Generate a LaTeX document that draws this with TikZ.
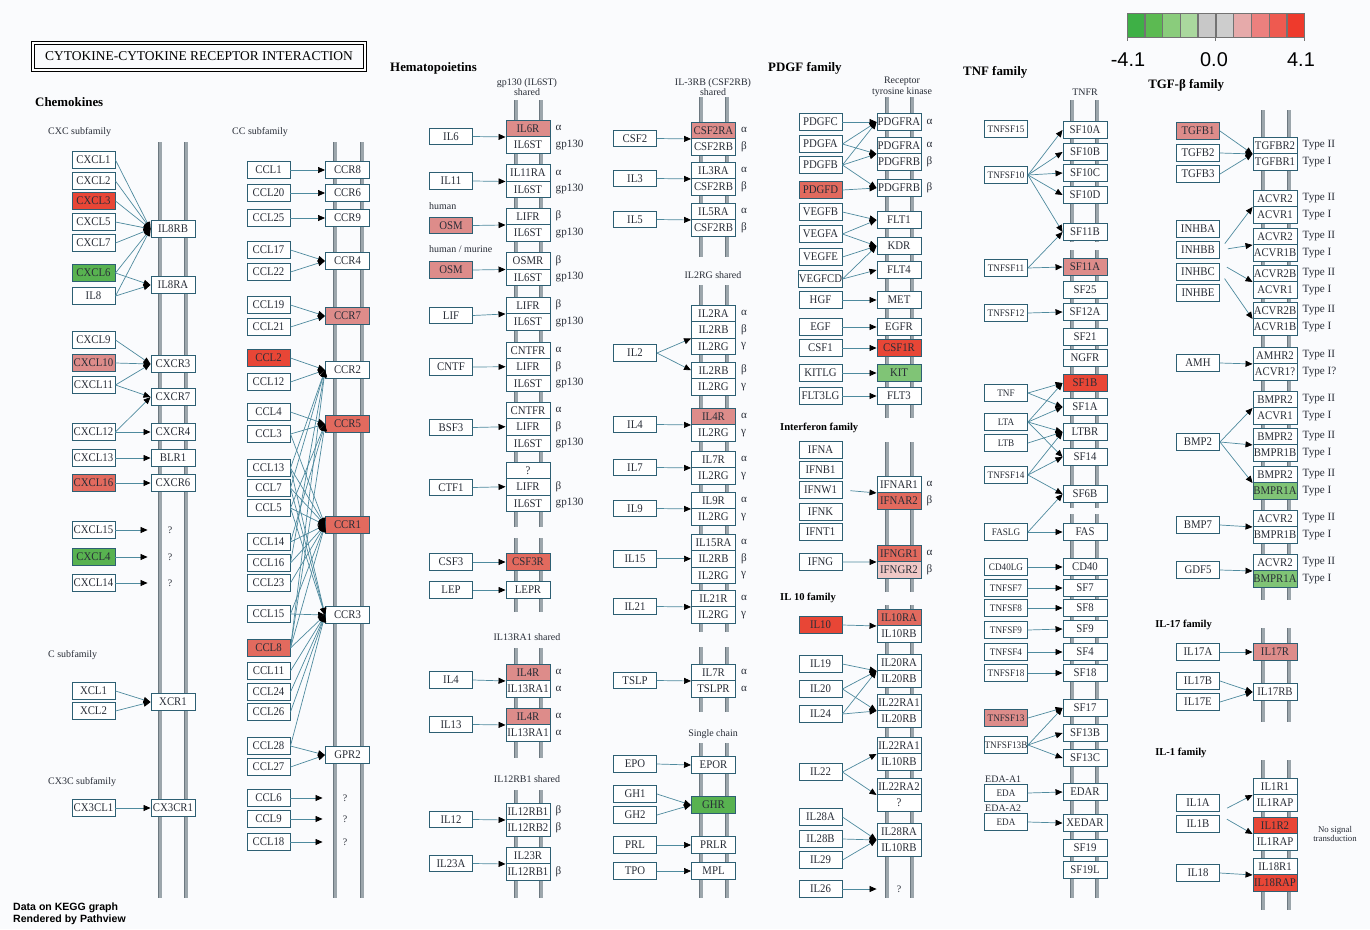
\documentclass[tikz,border=0pt]{standalone}
\usepackage{fontspec}
\setmainfont{Liberation Serif}
\newfontfamily\keyfont{Liberation Sans}
\newfontfamily\genefont{Liberation Serif}[FakeStretch=0.92]
\usepackage{tikz}
\usetikzlibrary{arrows.meta, positioning}
\definecolor{boxblue}{RGB}{45,95,115}
\definecolor{linkteal}{RGB}{78,138,158}
\definecolor{membgray}{RGB}{156,166,172}
\definecolor{membdark}{RGB}{108,120,128}
\definecolor{txtdark}{RGB}{40,45,55}
\definecolor{bgpaper}{RGB}{250,251,253}
\definecolor{upstrong}{RGB}{232,70,54}
\definecolor{upred}{RGB}{226,106,94}
\definecolor{uppink}{RGB}{221,140,138}
\definecolor{uplight}{RGB}{240,200,198}
\definecolor{dngreen}{RGB}{88,178,80}
\definecolor{dnlight}{RGB}{128,196,118}
\definecolor{kone}{RGB}{62,176,70}
\definecolor{ktwo}{RGB}{92,186,82}
\definecolor{kthree}{RGB}{138,204,124}
\definecolor{kfour}{RGB}{170,216,158}
\definecolor{kfive}{RGB}{200,200,200}
\definecolor{ksix}{RGB}{205,205,205}
\definecolor{kseven}{RGB}{230,170,170}
\definecolor{keight}{RGB}{236,128,126}
\definecolor{knine}{RGB}{238,90,80}
\definecolor{kten}{RGB}{238,58,44}
\tikzset{
  gene/.style={rectangle, draw=boxblue, fill=white, line width=0.8pt,
    inner sep=0pt, minimum width=12.9mm, minimum height=5mm,
    text=txtdark, font=\genefont\fontsize{10}{11}\selectfont},
  lig/.style={gene},
  tnflig/.style={gene, font=\genefont\fontsize{8.5}{9}\selectfont},
  rec/.style={gene, minimum width=13.2mm},
  cell/.style={rec, minimum height=4.95mm},
  uA/.style={fill=upstrong},
  uB/.style={fill=upred},
  uC/.style={fill=uppink},
  uD/.style={fill=uplight},
  dA/.style={fill=dngreen},
  dB/.style={fill=dnlight},
  memb/.style={draw=membdark, line width=0.25mm, double=membgray,
    double distance=0.9mm},
  link/.style={draw=linkteal, line width=0.6pt,
    -{Triangle[length=2.1mm, width=1.8mm, color=black]}},
  gap/.style={shorten <=2.4mm},
  toq/.style={shorten >=6mm},
  tagtext/.style={font=\fontsize{9.5}{10}\selectfont, text=txtdark,
    inner sep=0pt, xshift=1.5mm},
  tag/.style={label={[tagtext]east:#1}},
  family/.style={font=\bfseries\fontsize{11}{13}\selectfont, anchor=west,
    inner sep=0pt, text=black},
  smallfam/.style={font=\bfseries\fontsize{9}{11}\selectfont, anchor=west,
    inner sep=0pt, text=black},
  note/.style={font=\fontsize{8.5}{9}\selectfont, text=txtdark,
    inner sep=0pt, align=center},
  qmark/.style={font=\fontsize{8.5}{9}\selectfont, text=txtdark, inner sep=0pt},
  keycell/.style={draw=black!55, line width=0.3pt, minimum width=5.22mm,
    minimum height=7.2mm, inner sep=0pt}
}

\begin{document}
\begin{tikzpicture}[x=0.3mm, y=-0.3mm]
  \useasboundingbox (0,0) rectangle (1370,929);
  \fill[bgpaper] (0,0) rectangle (1370,929);

  % Title
  \node[draw=black, double=white, double distance=1.2pt, line width=0.8pt,
    minimum width=99.6mm, minimum height=8.1mm, inner sep=0pt,
    font=\fontsize{11.5}{13}\selectfont] (title) at (199,56.5)
    {CYTOKINE-CYTOKINE RECEPTOR INTERACTION};

  % Colour key
  \node[keycell, fill=kone] (k1) at (1135.7,25) {};
  \node[keycell, fill=ktwo, right=0pt of k1] (k2) {};
  \node[keycell, fill=kthree, right=0pt of k2] (k3) {};
  \node[keycell, fill=kfour, right=0pt of k3] (k4) {};
  \node[keycell, fill=kfive, right=0pt of k4] (k5) {};
  \node[keycell, fill=ksix, right=0pt of k5] (k6) {};
  \node[keycell, fill=kseven, right=0pt of k6] (k7) {};
  \node[keycell, fill=keight, right=0pt of k7] (k8) {};
  \node[keycell, fill=knine, right=0pt of k8] (k9) {};
  \node[keycell, fill=kten, right=0pt of k9] (k10) {};
  \draw[black!55, line width=0.3pt] (k1.south west) -- ++(0,4) (k5.south east) -- ++(0,4)
    (k10.south east) -- ++(0,4);
  \node[font=\keyfont\fontsize{17}{18}\selectfont, inner sep=0pt] (kmin) at (1128,60) {-4.1};
  \node[font=\keyfont\fontsize{17}{18}\selectfont, inner sep=0pt] (kmid) at (1214,60) {0.0};
  \node[font=\keyfont\fontsize{17}{18}\selectfont, inner sep=0pt] (kmax) at (1301,60) {4.1};

  % Membranes
  \draw[memb] (160,142) -- (160,898);
  \draw[memb] (186,142) -- (186,898);
  \draw[memb] (335,142) -- (335,898);
  \draw[memb] (362,142) -- (362,898);
  \draw[memb] (516,100) -- (516,527);
  \draw[memb] (541,100) -- (541,527);
  \draw[memb] (516,538) -- (516,612);
  \draw[memb] (541,538) -- (541,612);
  \draw[memb] (516,648) -- (516,758);
  \draw[memb] (541,648) -- (541,758);
  \draw[memb] (516,790) -- (516,898);
  \draw[memb] (541,790) -- (541,898);
  \draw[memb] (701,97) -- (701,257);
  \draw[memb] (727,97) -- (727,257);
  \draw[memb] (701,285) -- (701,632);
  \draw[memb] (727,285) -- (727,632);
  \draw[memb] (701,647) -- (701,712);
  \draw[memb] (727,647) -- (727,712);
  \draw[memb] (701,743) -- (701,898);
  \draw[memb] (727,743) -- (727,898);
  \draw[memb] (887,97) -- (887,418);
  \draw[memb] (912,97) -- (912,418);
  \draw[memb] (887,442) -- (887,592);
  \draw[memb] (912,442) -- (912,592);
  \draw[memb] (887,605) -- (887,898);
  \draw[memb] (912,605) -- (912,898);
  \draw[memb] (1072,100) -- (1072,242);
  \draw[memb] (1097,100) -- (1097,242);
  \draw[memb] (1072,250) -- (1072,508);
  \draw[memb] (1097,250) -- (1097,508);
  \draw[memb] (1072,514) -- (1072,898);
  \draw[memb] (1097,514) -- (1097,898);
  \draw[memb] (1263,110) -- (1263,600);
  \draw[memb] (1289,110) -- (1289,600);
  \draw[memb] (1263,628) -- (1263,722);
  \draw[memb] (1289,628) -- (1289,722);
  \draw[memb] (1263,760) -- (1263,910);
  \draw[memb] (1289,760) -- (1289,910);

  % Chemokines: CXC
  \node[family] (chemo) at (35,102) {Chemokines};
  \node[note, anchor=west] (cxcsub) at (48,132) {CXC subfamily};
  \node[lig] (cxcl1) at (93.5,160) {CXCL1};
  \node[lig] (cxcl2) at (93.5,181) {CXCL2};
  \node[lig, uA] (cxcl3) at (93.5,201) {CXCL3};
  \node[lig] (cxcl5) at (93.5,222) {CXCL5};
  \node[lig] (cxcl7) at (93.5,243) {CXCL7};
  \node[lig, dA] (cxcl6) at (93.5,273) {CXCL6};
  \node[lig] (il8) at (93.5,296) {IL8};
  \node[lig] (cxcl9) at (93.5,340) {CXCL9};
  \node[lig, uC] (cxcl10) at (93.5,363) {CXCL10};
  \node[lig] (cxcl11) at (93.5,385) {CXCL11};
  \node[lig] (cxcl12) at (93.5,432) {CXCL12};
  \node[lig] (cxcl13) at (93.5,458) {CXCL13};
  \node[lig, uB] (cxcl16) at (93.5,483) {CXCL16};
  \node[lig] (cxcl15) at (93.5,530) {CXCL15};
  \node[lig, dA] (cxcl4) at (93.5,557) {CXCL4};
  \node[lig] (cxcl14) at (93.5,583) {CXCL14};
  \node[rec] (il8rb) at (173,229) {IL8RB};
  \node[rec] (il8ra) at (173,285) {IL8RA};
  \node[rec] (cxcr3) at (173,364) {CXCR3};
  \node[rec] (cxcr7) at (173,397) {CXCR7};
  \node[rec] (cxcr4) at (173,432) {CXCR4};
  \node[rec] (blr1) at (173,458) {BLR1};
  \node[rec] (cxcr6) at (173,483) {CXCR6};
  \node[qmark] (qa) at (170,530) {?};
  \node[qmark] (qb) at (170,557) {?};
  \node[qmark] (qc) at (170,583) {?};
  \node[note, anchor=west] (csub) at (48,655) {C subfamily};
  \node[lig] (xcl1) at (93.5,691) {XCL1};
  \node[lig] (xcl2) at (93.5,711) {XCL2};
  \node[rec] (xcr1) at (173,702) {XCR1};
  \node[note, anchor=west] (cxxxcsub) at (48,782) {CX3C subfamily};
  \node[lig] (cx3cl1) at (93.5,808) {CX3CL1};
  \node[rec] (cx3cr1) at (173,808) {CX3CR1};

  \draw[link] (cxcl1.east) -- (il8rb.west);
  \draw[link] (cxcl2.east) -- (il8rb.west);
  \draw[link] (cxcl3.east) -- (il8rb.west);
  \draw[link] (cxcl5.east) -- (il8rb.west);
  \draw[link] (cxcl7.east) -- (il8rb.west);
  \draw[link] (cxcl6.east) -- (il8rb.west);
  \draw[link] (il8.east) -- (il8rb.west);
  \draw[link] (cxcl6.east) -- (il8ra.west);
  \draw[link] (il8.east) -- (il8ra.west);
  \draw[link] (cxcl9.east) -- (cxcr3.west);
  \draw[link] (cxcl10.east) -- (cxcr3.west);
  \draw[link] (cxcl11.east) -- (cxcr3.west);
  \draw[link] (cxcl11.east) -- (cxcr7.west);
  \draw[link] (cxcl12.east) -- (cxcr7.west);
  \draw[link] (cxcl12.east) -- (cxcr4.west);
  \draw[link] (cxcl13.east) -- (blr1.west);
  \draw[link] (cxcl16.east) -- (cxcr6.west);
  \draw[link, toq] (cxcl15.east) -- (qa);
  \draw[link, toq] (cxcl4.east) -- (qb);
  \draw[link, toq] (cxcl14.east) -- (qc);
  \draw[link] (xcl1.east) -- (xcr1.west);
  \draw[link] (xcl2.east) -- (xcr1.west);
  \draw[link] (cx3cl1.east) -- (cx3cr1.west);

  % Chemokines: CC
  \node[note, anchor=west] (ccsub) at (232,132) {CC subfamily};
  \node[lig] (ccl1) at (268.5,170) {CCL1};
  \node[lig] (ccl20) at (268.5,193) {CCL20};
  \node[lig] (ccl25) at (268.5,218) {CCL25};
  \node[lig] (ccl17) at (268.5,250) {CCL17};
  \node[lig] (ccl22) at (268.5,272) {CCL22};
  \node[lig] (ccl19) at (268.5,305) {CCL19};
  \node[lig] (ccl21) at (268.5,327) {CCL21};
  \node[lig, uA] (ccl2) at (268.5,358) {CCL2};
  \node[lig] (ccl12) at (268.5,382) {CCL12};
  \node[lig] (ccl4) at (268.5,412) {CCL4};
  \node[lig] (ccl3) at (268.5,434) {CCL3};
  \node[lig] (ccl13) at (268.5,468) {CCL13};
  \node[lig] (ccl7) at (268.5,488) {CCL7};
  \node[lig] (ccl5) at (268.5,508) {CCL5};
  \node[lig] (ccl14) at (268.5,542) {CCL14};
  \node[lig] (ccl16) at (268.5,563) {CCL16};
  \node[lig] (ccl23) at (268.5,583) {CCL23};
  \node[lig] (ccl15) at (268.5,614) {CCL15};
  \node[lig, uB] (ccl8) at (268.5,648) {CCL8};
  \node[lig] (ccl11) at (268.5,671) {CCL11};
  \node[lig] (ccl24) at (268.5,692) {CCL24};
  \node[lig] (ccl26) at (268.5,712) {CCL26};
  \node[lig] (ccl28) at (268.5,746) {CCL28};
  \node[lig] (ccl27) at (268.5,767) {CCL27};
  \node[lig] (ccl6) at (268.5,798) {CCL6};
  \node[lig] (ccl9) at (268.5,819) {CCL9};
  \node[lig] (ccl18) at (268.5,842) {CCL18};
  \node[rec] (ccr8) at (347.5,170) {CCR8};
  \node[rec] (ccr6) at (347.5,193) {CCR6};
  \node[rec] (ccr9) at (347.5,218) {CCR9};
  \node[rec] (ccr4) at (347.5,261) {CCR4};
  \node[rec, uC] (ccr7) at (347.5,316) {CCR7};
  \node[rec] (ccr2) at (347.5,370) {CCR2};
  \node[rec, uB] (ccr5) at (347.5,424) {CCR5};
  \node[rec, uB] (ccr1) at (347.5,525) {CCR1};
  \node[rec] (ccr3) at (347.5,615) {CCR3};
  \node[rec] (gpr2) at (347.5,755) {GPR2};
  \node[qmark] (qd) at (345,798) {?};
  \node[qmark] (qe) at (345,819) {?};
  \node[qmark] (qf) at (345,842) {?};

  \draw[link] (ccl1.east) -- (ccr8.west);
  \draw[link] (ccl20.east) -- (ccr6.west);
  \draw[link] (ccl25.east) -- (ccr9.west);
  \draw[link] (ccl17.east) -- (ccr4.west);
  \draw[link] (ccl22.east) -- (ccr4.west);
  \draw[link] (ccl19.east) -- (ccr7.west);
  \draw[link] (ccl21.east) -- (ccr7.west);
  \draw[link] (ccl2.east) -- (ccr2.west);
  \draw[link] (ccl12.east) -- (ccr2.west);
  \draw[link] (ccl13.east) -- (ccr2.west);
  \draw[link] (ccl7.east) -- (ccr2.west);
  \draw[link] (ccl8.east) -- (ccr2.west);
  \draw[link] (ccl16.east) -- (ccr2.west);
  \draw[link] (ccl4.east) -- (ccr5.west);
  \draw[link] (ccl3.east) -- (ccr5.west);
  \draw[link] (ccl5.east) -- (ccr5.west);
  \draw[link] (ccl14.east) -- (ccr5.west);
  \draw[link] (ccl8.east) -- (ccr5.west);
  \draw[link] (ccl3.east) -- (ccr1.west);
  \draw[link] (ccl5.east) -- (ccr1.west);
  \draw[link] (ccl7.east) -- (ccr1.west);
  \draw[link] (ccl13.east) -- (ccr1.west);
  \draw[link] (ccl14.east) -- (ccr1.west);
  \draw[link] (ccl16.east) -- (ccr1.west);
  \draw[link] (ccl23.east) -- (ccr1.west);
  \draw[link] (ccl15.east) -- (ccr1.west);
  \draw[link] (ccl8.east) -- (ccr1.west);
  \draw[link] (ccl5.east) -- (ccr3.west);
  \draw[link] (ccl7.east) -- (ccr3.west);
  \draw[link] (ccl13.east) -- (ccr3.west);
  \draw[link] (ccl15.east) -- (ccr3.west);
  \draw[link] (ccl8.east) -- (ccr3.west);
  \draw[link] (ccl11.east) -- (ccr3.west);
  \draw[link] (ccl24.east) -- (ccr3.west);
  \draw[link] (ccl26.east) -- (ccr3.west);
  \draw[link] (ccl28.east) -- (ccr3.west);
  \draw[link] (ccl28.east) -- (gpr2.west);
  \draw[link] (ccl27.east) -- (gpr2.west);
  \draw[link, toq] (ccl6.east) -- (qd);
  \draw[link, toq] (ccl9.east) -- (qe);
  \draw[link, toq] (ccl18.east) -- (qf);

  % Hematopoietins: gp130 shared
  \node[family] (hemato) at (390,68) {Hematopoietins};
  \node[note] (gpnote) at (527,87) {gp130 (IL6ST)\\shared};
  \node[cell, uC, tag=α] (il6r) at (528,128.25) {IL6R};
  \node[cell, tag=gp130] (gpa) at (528,144.75) {IL6ST};
  \node[cell, tag=α] (il11ra) at (528,172.75) {IL11RA};
  \node[cell, tag=gp130] (gpb) at (528,189.25) {IL6ST};
  \node[cell, tag=β] (lifra) at (528,216.25) {LIFR};
  \node[cell, tag=gp130] (gpc) at (528,232.75) {IL6ST};
  \node[cell, tag=β] (osmr) at (528,260.75) {OSMR};
  \node[cell, tag=gp130] (gpd) at (528,277.25) {IL6ST};
  \node[cell, tag=β] (lifrb) at (528,305.25) {LIFR};
  \node[cell, tag=gp130] (gpe) at (528,321.75) {IL6ST};
  \node[cell, tag=α] (cntfra) at (528,350.25) {CNTFR};
  \node[cell, tag=β] (lifrc) at (528,366.75) {LIFR};
  \node[cell, tag=gp130] (gpf) at (528,383.25) {IL6ST};
  \node[cell, tag=α] (cntfrb) at (528,410.25) {CNTFR};
  \node[cell, tag=β] (lifrd) at (528,426.75) {LIFR};
  \node[cell, tag=gp130] (gpg) at (528,443.25) {IL6ST};
  \node[cell] (unka) at (528,470.25) {?};
  \node[cell, tag=β] (lifre) at (528,486.75) {LIFR};
  \node[cell, tag=gp130] (gph) at (528,503.25) {IL6ST};
  \node[rec, uB] (csf3r) at (528,562) {CSF3R};
  \node[rec] (lepr) at (528,590) {LEPR};
  \node[lig] (il6) at (451,136.5) {IL6};
  \node[lig] (il11) at (451,181) {IL11};
  \node[note, anchor=west] (human) at (429,206) {human};
  \node[lig, uC] (osma) at (451,225.5) {OSM};
  \node[note, anchor=west] (humur) at (429,249) {human / murine};
  \node[lig, uC] (osmb) at (451,270) {OSM};
  \node[lig] (lif) at (451,315.5) {LIF};
  \node[lig] (cntf) at (451,367) {CNTF};
  \node[lig] (bsf3) at (451,427.5) {BSF3};
  \node[lig] (ctf1) at (451,487.5) {CTF1};
  \node[lig] (csf3) at (451,562) {CSF3};
  \node[lig] (lep) at (451,590) {LEP};

  \draw[link] (il6.east) -- (il6r.south west);
  \draw[link] (il11.east) -- (il11ra.south west);
  \draw[link] (osma.east) -- (lifra.south west);
  \draw[link] (osmb.east) -- (osmr.south west);
  \draw[link] (lif.east) -- (lifrb.south west);
  \draw[link] (cntf.east) -- (lifrc.west);
  \draw[link] (bsf3.east) -- (lifrd.west);
  \draw[link] (ctf1.east) -- (lifre.west);
  \draw[link] (csf3.east) -- (csf3r.west);
  \draw[link] (lep.east) -- (lepr.west);

  % Hematopoietins: IL13RA1 and IL12RB1 shared
  \node[note] (il13note) at (527,637) {IL13RA1 shared};
  \node[cell, uC, tag=α] (il4ra) at (528,672.25) {IL4R};
  \node[cell, tag=α] (il13raa) at (528,688.75) {IL13RA1};
  \node[cell, uC, tag=α] (il4rb) at (528,716.25) {IL4R};
  \node[cell, tag=α] (il13rab) at (528,732.75) {IL13RA1};
  \node[lig] (il4a) at (451,680) {IL4};
  \node[lig] (il13) at (451,724.5) {IL13};
  \node[note] (il12note) at (527,779) {IL12RB1 shared};
  \node[cell, tag=β] (il12rba) at (528,811.25) {IL12RB1};
  \node[cell, tag=β] (il12rb2) at (528,827.75) {IL12RB2};
  \node[cell] (il23r) at (528,855.25) {IL23R};
  \node[cell, tag=β] (il12rbb) at (528,871.75) {IL12RB1};
  \node[lig] (il12) at (451,819.5) {IL12};
  \node[lig] (il23a) at (451,863.5) {IL23A};

  \draw[link] (il4a.east) -- (il4ra.south west);
  \draw[link] (il13.east) -- (il4rb.south west);
  \draw[link] (il12.east) -- (il12rba.south west);
  \draw[link] (il23a.east) -- (il23r.south west);

  % Hematopoietins: IL-3RB and IL2RG shared, single chain
  \node[note] (il3note) at (713,87) {IL-3RB (CSF2RB)\\shared};
  \node[cell, uC, tag=α] (csf2ra) at (713.5,130.25) {CSF2RA};
  \node[cell, tag=β] (csf2rba) at (713.5,146.75) {CSF2RB};
  \node[cell, tag=α] (il3ra) at (713.5,170.25) {IL3RA};
  \node[cell, tag=β] (csf2rbb) at (713.5,186.75) {CSF2RB};
  \node[cell, tag=α] (il5ra) at (713.5,211.25) {IL5RA};
  \node[cell, tag=β] (csf2rbc) at (713.5,227.75) {CSF2RB};
  \node[lig] (csf2) at (635,138.5) {CSF2};
  \node[lig] (il3) at (635,178.5) {IL3};
  \node[lig] (il5) at (635,219.5) {IL5};
  \node[note] (il2note) at (713,275) {IL2RG shared};
  \node[cell, tag=α] (il2ra) at (713.5,313.25) {IL2RA};
  \node[cell, tag=β] (il2rba) at (713.5,329.75) {IL2RB};
  \node[cell, tag=γ] (il2rga) at (713.5,346.25) {IL2RG};
  \node[cell, tag=β] (il2rbb) at (713.5,370.25) {IL2RB};
  \node[cell, tag=γ] (il2rgb) at (713.5,386.75) {IL2RG};
  \node[cell, uC, tag=α] (il4rc) at (713.5,416.25) {IL4R};
  \node[cell, tag=γ] (il2rgc) at (713.5,432.75) {IL2RG};
  \node[cell, tag=α] (il7ra) at (713.5,459.25) {IL7R};
  \node[cell, tag=γ] (il2rgd) at (713.5,475.75) {IL2RG};
  \node[cell, tag=α] (il9r) at (713.5,500.25) {IL9R};
  \node[cell, tag=γ] (il2rge) at (713.5,516.75) {IL2RG};
  \node[cell, tag=α] (il15ra) at (713.5,542.25) {IL15RA};
  \node[cell, tag=β] (il2rbc) at (713.5,558.75) {IL2RB};
  \node[cell, tag=γ] (il2rgf) at (713.5,575.25) {IL2RG};
  \node[cell, tag=α] (il21r) at (713.5,598.25) {IL21R};
  \node[cell, tag=γ] (il2rgg) at (713.5,614.75) {IL2RG};
  \node[cell, tag=α] (il7rb) at (713.5,672.25) {IL7R};
  \node[cell, tag=α] (tslpr) at (713.5,688.75) {TSLPR};
  \node[lig] (il2) at (635,353) {IL2};
  \node[lig] (il4b) at (635,424.5) {IL4};
  \node[lig] (il7) at (635,467.5) {IL7};
  \node[lig] (il9) at (635,508.5) {IL9};
  \node[lig] (il15) at (635,558.75) {IL15};
  \node[lig] (il21) at (635,606.5) {IL21};
  \node[lig] (tslp) at (635,680.5) {TSLP};
  \node[note] (singlenote) at (713,734) {Single chain};
  \node[rec] (epor) at (713.5,765) {EPOR};
  \node[rec, dA] (ghr) at (713.5,805) {GHR};
  \node[rec] (prlr) at (713.5,845) {PRLR};
  \node[rec] (mpl) at (713.5,871) {MPL};
  \node[lig] (epo) at (635,764) {EPO};
  \node[lig] (gh1) at (635,794) {GH1};
  \node[lig] (gh2) at (635,815) {GH2};
  \node[lig] (prl) at (635,845) {PRL};
  \node[lig] (tpo) at (635,871) {TPO};

  \draw[link] (csf2.east) -- (csf2ra.south west);
  \draw[link] (il3.east) -- (il3ra.south west);
  \draw[link] (il5.east) -- (il5ra.south west);
  \draw[link] (il2.east) -- (il2rba.south west);
  \draw[link] (il2.east) -- (il2rbb.west);
  \draw[link] (il4b.east) -- (il4rc.south west);
  \draw[link] (il7.east) -- (il7ra.south west);
  \draw[link] (il9.east) -- (il9r.south west);
  \draw[link] (il15.east) -- (il2rbc.west);
  \draw[link] (il21.east) -- (il21r.south west);
  \draw[link] (tslp.east) -- (il7rb.south west);
  \draw[link] (epo.east) -- (epor.west);
  \draw[link] (gh1.east) -- (ghr.west);
  \draw[link] (gh2.east) -- (ghr.west);
  \draw[link] (prl.east) -- (prlr.west);
  \draw[link] (tpo.east) -- (mpl.west);

  % PDGF family
  \node[family] (pdgffam) at (768,68) {PDGF family};
  \node[note] (rtknote) at (902,87) {Receptor\\tyrosine kinase};
  \node[lig] (pdgfc) at (820.5,122) {PDGFC};
  \node[lig] (pdgfa) at (820.5,144) {PDGFA};
  \node[lig] (pdgfb) at (820.5,165) {PDGFB};
  \node[lig, uB] (pdgfd) at (820.5,190) {PDGFD};
  \node[lig] (vegfb) at (820.5,212) {VEGFB};
  \node[lig] (vegfa) at (820.5,234) {VEGFA};
  \node[lig] (vegfe) at (820.5,257) {VEGFE};
  \node[lig] (vegfcd) at (820.5,279) {VEGFCD};
  \node[lig] (hgf) at (820.5,300) {HGF};
  \node[lig] (egf) at (820.5,327) {EGF};
  \node[lig] (csf1) at (820.5,348) {CSF1};
  \node[lig] (kitlg) at (820.5,373) {KITLG};
  \node[lig] (flt3lg) at (820.5,396) {FLT3LG};
  \node[rec, tag=α] (pdgfraa) at (899,122) {PDGFRA};
  \node[cell, tag=α] (pdgfrab) at (899,145.25) {PDGFRA};
  \node[cell, tag=β] (pdgfrba) at (899,161.75) {PDGFRB};
  \node[rec, tag=β] (pdgfrbb) at (899,188) {PDGFRB};
  \node[rec] (flt1) at (899,220) {FLT1};
  \node[rec] (kdr) at (899,246) {KDR};
  \node[rec] (flt4) at (899,270) {FLT4};
  \node[rec] (met) at (899,300) {MET};
  \node[rec] (egfr) at (899,327) {EGFR};
  \node[rec, uA] (csf1r) at (899,348) {CSF1R};
  \node[rec, dB] (kit) at (899,373) {KIT};
  \node[rec] (flt3) at (899,396) {FLT3};

  \draw[link] (pdgfc.east) -- (pdgfraa.west);
  \draw[link] (pdgfa.east) -- (pdgfraa.west);
  \draw[link] (pdgfa.east) -- (pdgfrab.south west);
  \draw[link] (pdgfb.east) -- (pdgfraa.west);
  \draw[link] (pdgfb.east) -- (pdgfrab.south west);
  \draw[link] (pdgfb.east) -- (pdgfrbb.west);
  \draw[link] (pdgfd.east) -- (pdgfrbb.west);
  \draw[link] (vegfb.east) -- (flt1.west);
  \draw[link] (vegfa.east) -- (flt1.west);
  \draw[link] (vegfa.east) -- (kdr.west);
  \draw[link] (vegfe.east) -- (kdr.west);
  \draw[link] (vegfcd.east) -- (kdr.west);
  \draw[link] (vegfcd.east) -- (flt4.west);
  \draw[link] (hgf.east) -- (met.west);
  \draw[link] (egf.east) -- (egfr.west);
  \draw[link] (csf1.east) -- (csf1r.west);
  \draw[link] (kitlg.east) -- (kit.west);
  \draw[link] (flt3lg.east) -- (flt3.west);

  % Interferon family
  \node[smallfam] (ifnfam) at (780,428) {Interferon family};
  \node[lig] (ifna) at (820.5,450) {IFNA};
  \node[lig] (ifnb1) at (820.5,470) {IFNB1};
  \node[lig] (ifnw1) at (820.5,490) {IFNW1};
  \node[lig] (ifnk) at (820.5,512) {IFNK};
  \node[lig] (ifnt1) at (820.5,532) {IFNT1};
  \node[lig] (ifng) at (820.5,562) {IFNG};
  \node[cell, tag=α] (ifnar1) at (899,484.25) {IFNAR1};
  \node[cell, uB, tag=β] (ifnar2) at (899,500.75) {IFNAR2};
  \node[cell, uB, tag=α] (ifngr1) at (899,553.25) {IFNGR1};
  \node[cell, uD, tag=β] (ifngr2) at (899,569.75) {IFNGR2};

  \draw[link, gap] (ifnw1.east) -- (ifnar1.south west);
  \draw[link] (ifng.east) -- (ifngr1.south west);

  % IL 10 family
  \node[smallfam] (il10fam) at (780,598) {IL 10 family};
  \node[lig, uA] (il10) at (820.5,625) {IL10};
  \node[lig] (il19) at (820.5,664) {IL19};
  \node[lig] (il20) at (820.5,689) {IL20};
  \node[lig] (il24) at (820.5,714) {IL24};
  \node[lig] (il22) at (820.5,772) {IL22};
  \node[lig] (il28a) at (820.5,817) {IL28A};
  \node[lig] (il28b) at (820.5,839) {IL28B};
  \node[lig] (il29) at (820.5,860) {IL29};
  \node[lig] (il26) at (820.5,889) {IL26};
  \node[cell, uB] (il10ra) at (899,617.25) {IL10RA};
  \node[cell] (il10rba) at (899,633.75) {IL10RB};
  \node[cell] (il20ra) at (899,662.25) {IL20RA};
  \node[cell] (il20rba) at (899,678.75) {IL20RB};
  \node[cell] (il22raa) at (899,702.25) {IL22RA1};
  \node[cell] (il20rbb) at (899,718.75) {IL20RB};
  \node[cell] (il22rab) at (899,745.25) {IL22RA1};
  \node[cell] (il10rbb) at (899,761.75) {IL10RB};
  \node[cell] (il22ra2) at (899,786.25) {IL22RA2};
  \node[cell] (unkb) at (899,802.75) {?};
  \node[cell] (il28ra) at (899,831.25) {IL28RA};
  \node[cell] (il10rbc) at (899,847.75) {IL10RB};
  \node[qmark] (qg) at (899,889) {?};

  \draw[link] (il10.east) -- (il10ra.south west);
  \draw[link] (il19.east) -- (il20ra.south west);
  \draw[link] (il20.east) -- (il20ra.south west);
  \draw[link] (il20.east) -- (il22raa.south west);
  \draw[link] (il24.east) -- (il20ra.south west);
  \draw[link] (il24.east) -- (il22raa.south west);
  \draw[link] (il22.east) -- (il22rab.south west);
  \draw[link] (il22.east) -- (il22ra2.south west);
  \draw[link] (il28a.east) -- (il28ra.south west);
  \draw[link] (il28b.east) -- (il28ra.south west);
  \draw[link] (il29.east) -- (il28ra.south west);
  \draw[link, toq] (il26.east) -- (qg);

  % TNF family
  \node[family] (tnffam) at (963,72) {TNF family};
  \node[note] (tnfrnote) at (1085,92) {TNFR};
  \node[tnflig] (tnfsf15) at (1006,129) {TNFSF15};
  \node[tnflig] (tnfsf10) at (1006,175) {TNFSF10};
  \node[tnflig] (tnfsf11) at (1006,268) {TNFSF11};
  \node[tnflig] (tnfsf12) at (1006,313) {TNFSF12};
  \node[tnflig] (tnf) at (1006,393) {TNF};
  \node[tnflig] (lta) at (1006,422) {LTA};
  \node[tnflig] (ltb) at (1006,443) {LTB};
  \node[tnflig] (tnfsf14) at (1006,475) {TNFSF14};
  \node[tnflig] (faslg) at (1006,532) {FASLG};
  \node[tnflig] (cd40lg) at (1006,567) {CD40LG};
  \node[tnflig] (tnfsf7) at (1006,588) {TNFSF7};
  \node[tnflig] (tnfsf8) at (1006,608) {TNFSF8};
  \node[tnflig] (tnfsf9) at (1006,630) {TNFSF9};
  \node[tnflig] (tnfsf4) at (1006,652) {TNFSF4};
  \node[tnflig] (tnfsf18) at (1006,673) {TNFSF18};
  \node[tnflig, uC] (tnfsf13) at (1006,718) {TNFSF13};
  \node[tnflig] (tnfsf13b) at (1006,745) {TNFSF13B};
  \node[note, anchor=west] (edaanote) at (985,779) {EDA-A1};
  \node[tnflig] (edaa) at (1006,793) {EDA};
  \node[note, anchor=west] (edabnote) at (985,808) {EDA-A2};
  \node[tnflig] (edab) at (1006,822) {EDA};
  \node[rec] (sf10a) at (1085,130) {SF10A};
  \node[rec] (sf10b) at (1085,152) {SF10B};
  \node[rec] (sf10c) at (1085,173) {SF10C};
  \node[rec] (sf10d) at (1085,195) {SF10D};
  \node[rec] (sf11b) at (1085,232) {SF11B};
  \node[rec, uC] (sf11a) at (1085,267) {SF11A};
  \node[rec] (sf25) at (1085,290) {SF25};
  \node[rec] (sf12a) at (1085,312) {SF12A};
  \node[rec] (sf21) at (1085,337) {SF21};
  \node[rec] (ngfr) at (1085,358) {NGFR};
  \node[rec, uA] (sf1b) at (1085,383) {SF1B};
  \node[rec] (sf1a) at (1085,407) {SF1A};
  \node[rec] (ltbr) at (1085,432) {LTBR};
  \node[rec] (sf14) at (1085,457) {SF14};
  \node[rec] (sf6b) at (1085,494) {SF6B};
  \node[rec] (fas) at (1085,532) {FAS};
  \node[rec] (cd40) at (1085,567) {CD40};
  \node[rec] (sf7) at (1085,588) {SF7};
  \node[rec] (sf8) at (1085,608) {SF8};
  \node[rec] (sf9) at (1085,629) {SF9};
  \node[rec] (sf4) at (1085,652) {SF4};
  \node[rec] (sf18) at (1085,673) {SF18};
  \node[rec] (sf17) at (1085,708) {SF17};
  \node[rec] (sf13b) at (1085,733) {SF13B};
  \node[rec] (sf13c) at (1085,758) {SF13C};
  \node[rec] (edar) at (1085,792) {EDAR};
  \node[rec] (xedar) at (1085,823) {XEDAR};
  \node[rec] (sf19) at (1085,848) {SF19};
  \node[rec] (sf19l) at (1085,870) {SF19L};

  \draw[link] (tnfsf10.east) -- (sf10a.west);
  \draw[link] (tnfsf10.east) -- (sf10b.west);
  \draw[link] (tnfsf10.east) -- (sf10c.west);
  \draw[link] (tnfsf10.east) -- (sf10d.west);
  \draw[link] (tnfsf10.east) -- (sf11b.west);
  \draw[link] (tnfsf11.east) -- (sf11b.west);
  \draw[link] (tnfsf11.east) -- (sf11a.west);
  \draw[link] (tnfsf12.east) -- (sf12a.west);
  \draw[link] (tnf.east) -- (sf1b.west);
  \draw[link] (tnf.east) -- (sf1a.west);
  \draw[link] (lta.east) -- (sf1b.west);
  \draw[link] (lta.east) -- (sf1a.west);
  \draw[link] (lta.east) -- (ltbr.west);
  \draw[link] (lta.east) -- (sf14.west);
  \draw[link] (ltb.east) -- (ltbr.west);
  \draw[link] (tnfsf14.east) -- (ltbr.west);
  \draw[link] (tnfsf14.east) -- (sf14.west);
  \draw[link] (tnfsf14.east) -- (sf6b.west);
  \draw[link] (faslg.east) -- (sf6b.west);
  \draw[link] (faslg.east) -- (fas.west);
  \draw[link] (cd40lg.east) -- (cd40.west);
  \draw[link] (tnfsf7.east) -- (sf7.west);
  \draw[link] (tnfsf8.east) -- (sf8.west);
  \draw[link] (tnfsf9.east) -- (sf9.west);
  \draw[link] (tnfsf4.east) -- (sf4.west);
  \draw[link] (tnfsf18.east) -- (sf18.west);
  \draw[link] (tnfsf13.east) -- (sf17.west);
  \draw[link] (tnfsf13b.east) -- (sf17.west);
  \draw[link] (tnfsf13b.east) -- (sf13b.west);
  \draw[link] (tnfsf13b.east) -- (sf13c.west);
  \draw[link] (edaa.east) -- (edar.west);
  \draw[link] (edab.east) -- (xedar.west);

  % TGF-beta family
  \node[family] (tgffam) at (1148,85) {TGF-β family};
  \node[lig, uC] (tgfb1) at (1198,131) {TGFB1};
  \node[lig] (tgfb2) at (1198,153) {TGFB2};
  \node[lig] (tgfb3) at (1198,174) {TGFB3};
  \node[lig] (inhba) at (1198,229) {INHBA};
  \node[lig] (inhbb) at (1198,250) {INHBB};
  \node[lig] (inhbc) at (1198,272) {INHBC};
  \node[lig] (inhbe) at (1198,293) {INHBE};
  \node[lig] (amh) at (1198,363) {AMH};
  \node[lig] (bmp2) at (1198,442) {BMP2};
  \node[lig] (bmp7) at (1198,525) {BMP7};
  \node[lig] (gdf5) at (1198,570) {GDF5};
  \node[cell, tag=Type II] (tga) at (1275,145.25) {TGFBR2};
  \node[cell, tag=Type I] (tgb) at (1275,161.75) {TGFBR1};
  \node[cell, tag=Type II] (acva) at (1275,198.25) {ACVR2};
  \node[cell, tag=Type I] (acvb) at (1275,214.75) {ACVR1};
  \node[cell, tag=Type II] (acvc) at (1275,236.25) {ACVR2};
  \node[cell, tag=Type I] (acvd) at (1275,252.75) {ACVR1B};
  \node[cell, tag=Type II] (acve) at (1275,273.25) {ACVR2B};
  \node[cell, tag=Type I] (acvf) at (1275,289.75) {ACVR1};
  \node[cell, tag=Type II] (acvg) at (1275,310.25) {ACVR2B};
  \node[cell, tag=Type I] (acvh) at (1275,326.75) {ACVR1B};
  \node[cell, tag=Type II] (amhr2) at (1275,355.25) {AMHR2};
  \node[cell, tag=Type I?] (acvi) at (1275,371.75) {ACVR1?};
  \node[cell, tag=Type II] (bmpa) at (1275,399.25) {BMPR2};
  \node[cell, tag=Type I] (bmpb) at (1275,415.75) {ACVR1};
  \node[cell, tag=Type II] (bmpc) at (1275,436.25) {BMPR2};
  \node[cell, tag=Type I] (bmpd) at (1275,452.75) {BMPR1B};
  \node[cell, tag=Type II] (bmpe) at (1275,474.25) {BMPR2};
  \node[cell, dB, tag=Type I] (bmpf) at (1275,490.75) {BMPR1A};
  \node[cell, tag=Type II] (bmpg) at (1275,518.25) {ACVR2};
  \node[cell, tag=Type I] (bmph) at (1275,534.75) {BMPR1B};
  \node[cell, tag=Type II] (bmpi) at (1275,562.25) {ACVR2};
  \node[cell, dB, tag=Type I] (bmpj) at (1275,578.75) {BMPR1A};

  \draw[link] (tgfb1.east) -- (tga.south west);
  \draw[link] (tgfb2.east) -- (tga.south west);
  \draw[link] (tgfb3.east) -- (tga.south west);
  \draw[link, gap] (inhbb.east) -- (acva.south west);
  \draw[link, gap] (inhbb.east) -- (acvc.south west);
  \draw[link, gap] (inhbc.north east) -- (acve.south west);
  \draw[link, gap] (inhbc.east) -- (acvg.south west);
  \draw[link] (amh.east) -- (amhr2.south west);
  \draw[link] (bmp2.east) -- (bmpa.south west);
  \draw[link] (bmp2.east) -- (bmpc.south west);
  \draw[link] (bmp2.east) -- (bmpe.south west);
  \draw[link] (bmp7.east) -- (bmpg.south west);
  \draw[link] (gdf5.east) -- (bmpi.south west);

  % IL-17 family
  \node[smallfam] (il17fam) at (1155,625) {IL-17 family};
  \node[lig] (il17a) at (1198,652) {IL17A};
  \node[lig] (il17b) at (1198,681) {IL17B};
  \node[lig] (il17e) at (1198,702) {IL17E};
  \node[rec, uC] (il17r) at (1275,652) {IL17R};
  \node[rec] (il17rb) at (1275,692) {IL17RB};

  \draw[link] (il17a.east) -- (il17r.west);
  \draw[link] (il17b.east) -- (il17rb.west);
  \draw[link] (il17e.east) -- (il17rb.west);

  % IL-1 family
  \node[smallfam] (il1fam) at (1155,753) {IL-1 family};
  \node[lig] (il1a) at (1198,803) {IL1A};
  \node[lig] (il1b) at (1198,824) {IL1B};
  \node[lig] (il18) at (1198,873) {IL18};
  \node[cell] (il1r1) at (1275,786.25) {IL1R1};
  \node[cell] (il1rapa) at (1275,802.75) {IL1RAP};
  \node[cell, uA] (il1r2) at (1275,825.25) {IL1R2};
  \node[cell] (il1rapb) at (1275,841.75) {IL1RAP};
  \node[cell] (il18r1) at (1275,866.25) {IL18R1};
  \node[cell, uA] (il18rap) at (1275,882.75) {IL18RAP};
  \node[note, font=\fontsize{7.5}{8}\selectfont] (nosig) at (1335,834) {No signal\\transduction};

  \draw[link, gap] (il1a.south east) -- (il1r1.south west);
  \draw[link, gap] (il1b.north east) -- (il1r2.south west);
  \draw[link] (il18.east) -- (il18r1.south west);

  % Footer
  \node[font=\keyfont\bfseries\fontsize{9}{10.5}\selectfont, anchor=west, align=left,
    inner sep=0pt] (footer) at (13,914) {Data on KEGG graph\\Rendered by Pathview};
\end{tikzpicture}
\end{document}
